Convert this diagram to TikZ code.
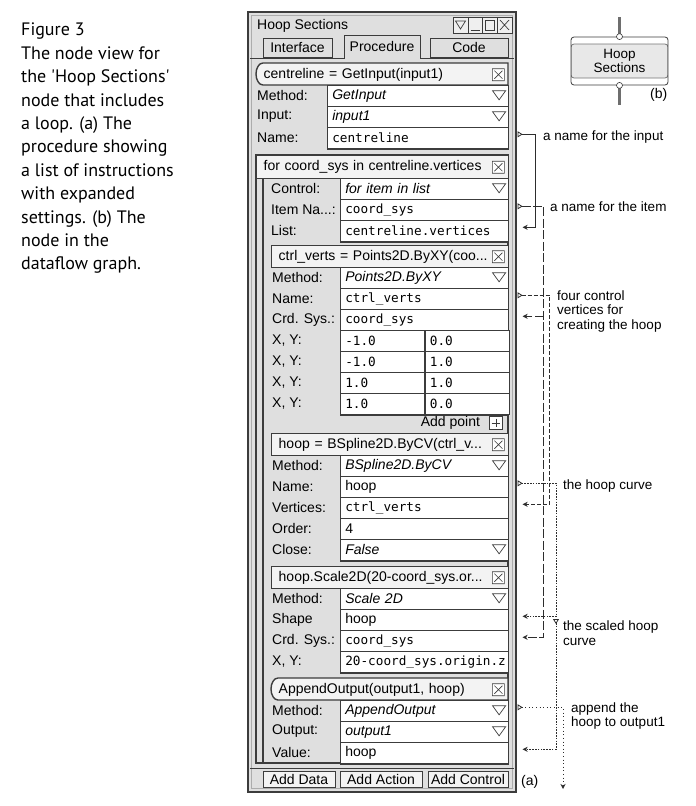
\documentclass[tikz,border=0pt]{standalone}
\usepackage{fontspec}
\setmainfont{Liberation Sans}
\setmonofont{DejaVu Sans Mono}
\newfontfamily\capfont{PT Sans}
\usetikzlibrary{arrows.meta, positioning}

\definecolor{winbg}{RGB}{223,223,223}
\definecolor{edge}{RGB}{60,60,60}
\definecolor{hdrbg}{RGB}{243,243,243}
\definecolor{wirecol}{RGB}{45,45,45}
\definecolor{stemcol}{RGB}{110,110,110}
\definecolor{dfmid}{RGB}{232,232,232}

\newcommand{\uifont}{\fontsize{14}{16}\selectfont}
\newcommand{\codetxt}[1]{{\fontsize{12.7}{15}\selectfont\ttfamily #1}}
\newcommand{\prow}[7]{%
  \node[lab] (#1l) at (#2,#4+10.5) {#6};
  \node[fld=#5] (#1) at (#3,#4) {#7};}
\newcommand{\ddmark}[1]{\draw[edge, line width=0.7pt] ([shift={(-16pt,5pt)}]#1.east) -- ++(13,0) -- ++(-6.5,9) -- cycle;}
\newcommand{\xbox}[1]{\draw[edge, fill=white, line width=0.6pt] ([xshift=-11pt]#1.east) ++(-6,-6) rectangle ++(12,12) ++(-2,-2) -- ++(-8,-8) ++(0,8) -- ++(8,-8);}
\newcommand{\ioframe}[4]{\filldraw[fill=hdrbg, draw=edge, line width=1.4pt] (#3,#2) -- (#3,#4) -- (#1+7,#4) arc[start angle=270, end angle=90, x radius=7pt, y radius=11pt] -- cycle;}

\tikzset{
  lab/.style={anchor=west, inner sep=0pt, font=\uifont},
  fld/.style={draw=edge, fill=white, line width=0.6pt, anchor=north west, minimum height=21pt,
    inner xsep=5pt, inner ysep=0pt, text width=#1pt, align=left, font=\uifont},
  hdr/.style={draw=edge, fill=hdrbg, line width=1.4pt, anchor=north west, minimum height=22pt,
    inner xsep=7pt, inner ysep=0pt, text width=#1pt, align=left, font=\uifont},
  iohdr/.style={hdr=#1, draw=none, fill=none},
  fldbase/.style={draw=edge, line width=1.8pt},
  tab/.style={draw=edge, fill=winbg, line width=0.8pt, minimum height=19pt, inner sep=0pt, font=\uifont},
  btn/.style={draw=edge, fill=hdrbg, line width=0.9pt, minimum height=16pt, inner sep=0pt, font=\uifont},
  ann/.style={anchor=west, inner sep=0pt, align=left, font=\fontsize{13.5}{14.5}\selectfont},
  capn/.style={anchor=north west, inner sep=0pt, align=left, font=\capfont\fontsize{18}{23.4}\selectfont},
  dfbox/.style={draw=edge, fill=white, line width=0.8pt, rounded corners=3pt, minimum width=97pt,
    minimum height=48pt, align=center, font=\fontsize{13.5}{13.5}\selectfont,
    path picture={\filldraw[fill=dfmid, draw=edge!70] ([yshift=-7pt]path picture bounding box.north west)
      rectangle ([yshift=7pt]path picture bounding box.south east);}},
  port/.style={circle, draw=edge, fill=white, line width=0.6pt, minimum size=6pt, inner sep=0pt},
  stem/.style={draw=stemcol, line width=3pt},
  wire/.style={draw=wirecol, line width=0.8pt,
    arrows={Triangle[open,reversed,length=5pt,width=6pt]-Stealth[open,length=5pt,width=5pt,inset=1.5pt]}},
  wname/.style={wire},
  witem/.style={wire, dash pattern=on 9pt off 2.5pt},
  wverts/.style={wire, dash pattern=on 4pt off 2pt},
  wcurve/.style={wire, dash pattern=on 1.6pt off 1.2pt},
  wappend/.style={wire, dash pattern=on 1pt off 2.6pt},
  src/.style={shift={(9pt,3.5pt)}},
  dst/.style={shift={(14pt,3.5pt)}}
}

\begin{document}
\begin{tikzpicture}[x=1pt, y=-1pt]
\fill[white] (0,0) rectangle (696,806);
\useasboundingbox (0,0) rectangle (696,806);

\node[capn] (capt) at (21,23) {Figure 3\\The node view for\\the \textquotesingle Hoop Sections\textquotesingle\\node that includes\\a loop. (a) The\\procedure showing\\a list of instructions\\with expanded\\settings. (b) The\\node in the\\dataflow graph.};

% window
\filldraw[fill=winbg, draw=edge, line width=1.2pt] (248,12) rectangle (516,792);
\draw[gray!65, line width=0.8pt] (251.5,15.5) rectangle (512.5,788.5);
\node[lab] (ttl) at (257,26) {Hoop Sections};
\draw[edge, fill=white!50!winbg, line width=0.7pt] (453,17) rectangle (512,33);
\draw[edge, line width=0.7pt] (468,17) -- (468,33) (482,17) -- (482,33) (497,17) -- (497,33);
\draw[edge, line width=0.7pt] (455.5,21) -- (465.5,21) -- (460.5,29) -- cycle;
\draw[edge, line width=1pt] (470.5,30) -- (479.5,30);
\draw[edge, line width=0.7pt] (485,20) rectangle (494,30);
\draw[edge, line width=0.7pt] (500,20) -- (509,30) (509,20) -- (500,30);

\draw[edge, line width=0.8pt] (250,58) -- (514,58) (250,768) -- (514,768);
\node[tab, minimum width=69pt] (tint) at (297.5,47.5) {Interface};
\node[tab, minimum width=78pt] (tcode) at (469,47.5) {Code};
\filldraw[fill=winbg, draw=edge, line width=0.8pt] (344,58.6) -- (344,35) -- (420,35) -- (420,58.6);
\node[lab, anchor=center] (tproc) at (382,46) {Procedure};

% input
\ioframe{256}{63}{508}{85}
\node[iohdr=238] (hin) at (256,63) {centreline = GetInput(input1)};
\xbox{hin}
\prow{inm}{257}{327}{85}{171}{Method:}{\textit{GetInput}} \ddmark{inm}
\prow{inp}{257}{327}{106}{171}{Input:}{\textit{input1}} \ddmark{inp}
\prow{inn}{257}{327}{127}{171}{Name:}{\codetxt{centreline}}
\draw[fldbase] (inn.south west) -- (inn.south east);

% loop
\filldraw[fill=winbg, draw=edge, line width=1.4pt] (256,155) rectangle (508,763);
\draw[edge, line width=1.4pt] (263,178) -- (263,763);
\node[hdr=238, minimum height=23pt] (hloop) at (256,155) {for coord\_sys in centreline.vertices};
\xbox{hloop}
\prow{ctl}{271}{340}{178}{158}{Control:}{\textit{for item in list}} \ddmark{ctl}
\prow{itm}{271}{340}{199}{158}{Item Na...:}{\codetxt{coord\_sys}}
\prow{lst}{271}{340}{220}{158}{List:}{\codetxt{centreline.vertices}}
\draw[fldbase] (lst.south west) -- (lst.south east);

% points
\node[hdr=223] (hcv) at (271,245) {ctrl\_verts = Points2D.ByXY(coo...};
\xbox{hcv}
\prow{cvm}{272}{340}{267}{158}{Method:}{\textit{Points2D.ByXY}} \ddmark{cvm}
\prow{cvn}{272}{340}{288}{158}{Name:}{\codetxt{ctrl\_verts}}
\prow{cvc}{272}{340}{309}{158}{Crd. Sys.:}{\codetxt{coord\_sys}}
\foreach \i/\y/\a/\b in {1/330/-1.0/0.0, 2/351/-1.0/1.0, 3/372/1.0/1.0, 4/393/1.0/0.0}{
  \node[lab] (xyl\i) at (272,\y+10.5) {X, Y:};
  \node[fld=74] (xya\i) at (340,\y) {\codetxt{\a}};
  \node[fld=74, right=0pt of xya\i] (xyb\i) {\codetxt{\b}};
}
\draw[fldbase] (xya4.south west) -- (xyb4.south east);
\node[draw=edge, fill=white, line width=0.6pt, minimum size=13pt, inner sep=0pt] (plus) at (496,423) {};
\draw[edge, line width=0.7pt] ([yshift=-2.5pt]plus.north) -- ([yshift=2.5pt]plus.south)
  ([xshift=2.5pt]plus.west) -- ([xshift=-2.5pt]plus.east);
\node[lab, left=9pt of plus] (addpt) {Add point};

% spline
\node[hdr=223] (hsp) at (271,433) {hoop = BSpline2D.ByCV(ctrl\_v...};
\xbox{hsp}
\prow{spm}{272}{340}{455}{158}{Method:}{\textit{BSpline2D.ByCV}} \ddmark{spm}
\prow{spn}{272}{340}{476}{158}{Name:}{hoop}
\prow{spv}{272}{340}{497}{158}{Vertices:}{\codetxt{ctrl\_verts}}
\prow{spo}{272}{340}{518}{158}{Order:}{4}
\prow{spc}{272}{340}{539}{158}{Close:}{\textit{False}} \ddmark{spc}
\draw[fldbase] (spc.south west) -- (spc.south east);

% scale
\node[hdr=223] (hsc) at (271,566) {hoop.Scale2D(20-coord\_sys.or...};
\xbox{hsc}
\prow{scm}{272}{340}{588}{158}{Method:}{\textit{Scale 2D}} \ddmark{scm}
\prow{scs}{272}{340}{609}{158}{Shape}{hoop}
\prow{scc}{272}{340}{630}{158}{Crd. Sys.:}{\codetxt{coord\_sys}}
\prow{scx}{272}{340}{651}{158}{X, Y:}{\codetxt{20-coord\_sys.origin.z}}
\draw[fldbase] (scx.south west) -- (scx.south east);

% output
\ioframe{271}{678}{508}{700}
\node[iohdr=223] (hap) at (271,678) {AppendOutput(output1, hoop)};
\xbox{hap}
\prow{apm}{272}{340}{700}{158}{Method:}{\textit{AppendOutput}} \ddmark{apm}
\prow{apo}{272}{340}{721}{158}{Output:}{\textit{output1}} \ddmark{apo}
\prow{apv}{272}{340}{742}{158}{Value:}{hoop}
\draw[fldbase] (apv.south west) -- (apv.south east);

\node[btn, minimum width=72pt] (bdata) at (299,779) {Add Data};
\node[btn, minimum width=82pt] (bact) at (381,779) {Add Action};
\node[btn, minimum width=80pt] (bctl) at (468,779) {Add Control};
\node[lab] (la) at (521,782) {(a)};

% dataflow node
\node[dfbox] (hs) at (619.5,61) {Hoop\\Sections};
\coordinate (hstop) at (619.5,17);
\coordinate (hsbot) at (619.5,105);
\draw[stem] (hs.north) -- (hstop);
\draw[stem] (hs.south) -- (hsbot);
\node[port] (hsi) at (hs.north) {};
\node[port] (hso) at (hs.south) {};
\node[lab] (lb) at (650,95) {(b)};

% links
\coordinate (cvcin) at ([dst]cvc.east);
\coordinate (scout) at (556,619);
\coordinate (apend) at (563,789);
\draw[wname] ([src]inn.east) -- ++(18,0) |- ([dst]lst.east);
\draw[witem] ([src]itm.east) -- ++(26,0) coordinate (v2) |- ([dst]scc.east);
\draw[witem, arrows={-Stealth[open,length=5pt,width=5pt,inset=1.5pt]}] (cvcin -| v2) -- (cvcin);
\draw[wverts] ([src]cvn.east) -- ++(32,0) |- ([dst]spv.east);
\draw[wcurve] ([src]spn.east) -- ++(39,0) |- ([dst]scs.east);
\draw[wcurve] (scout) |- ([dst]apv.east);
\draw[wappend] ([src]apm.east) -| (apend);

\node[ann] (a1) at (543,137) {a name for the input};
\node[ann] (a2) at (550,207) {a name for the item};
\node[ann] (a3) at (557,311.5) {four control\\vertices for\\creating the hoop};
\node[ann] (a4) at (563,486) {the hoop curve};
\node[ann] (a5) at (563,633) {the scaled hoop\\curve};
\node[ann] (a6) at (571,716) {append the\\hoop to output1};
\end{tikzpicture}
\end{document}
